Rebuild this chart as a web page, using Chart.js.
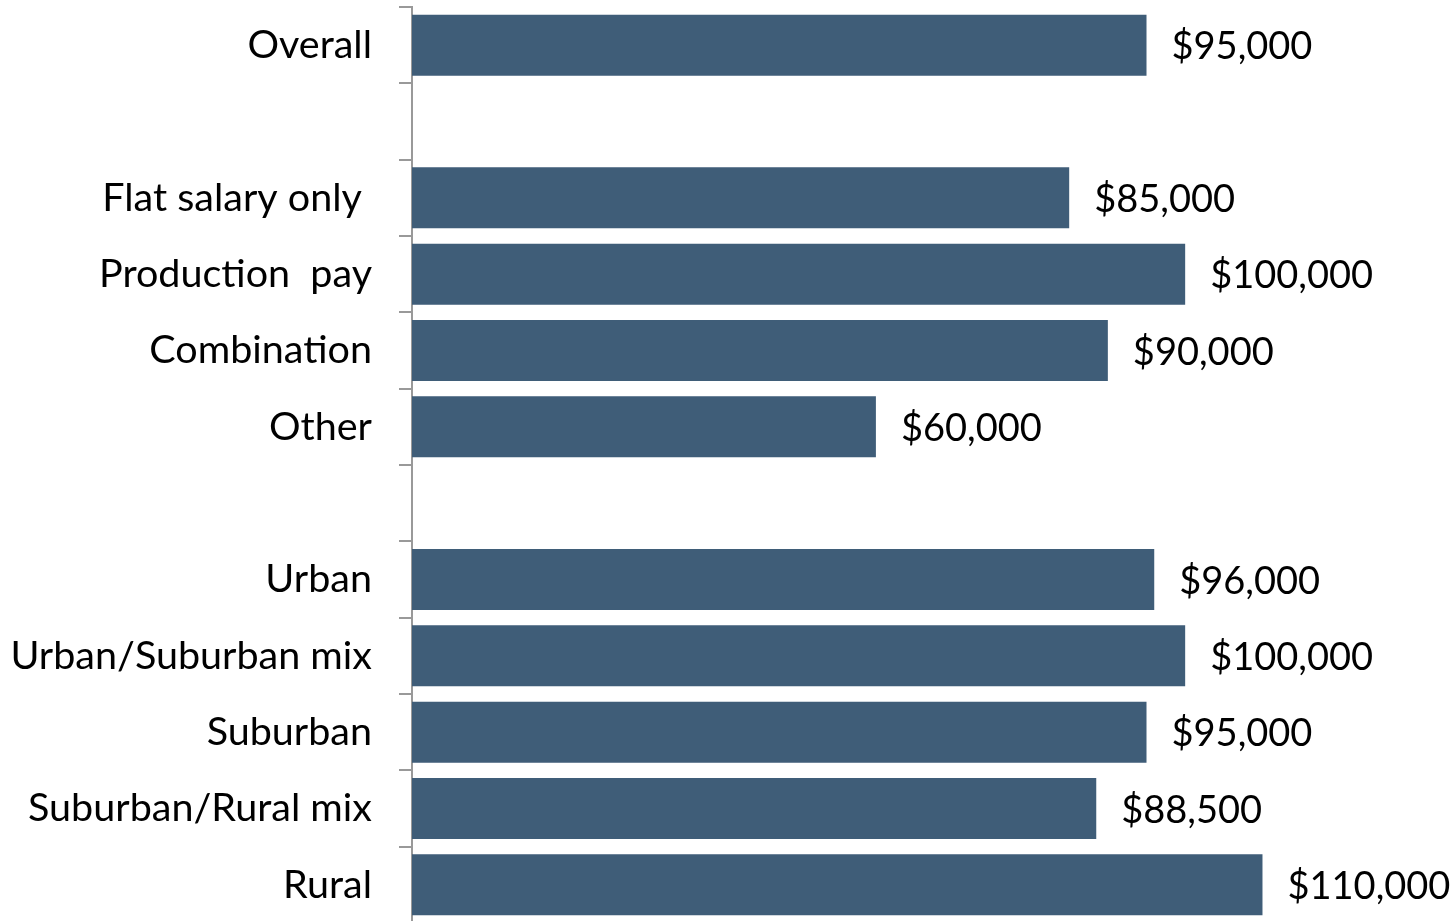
<!DOCTYPE html>
<html>
<head>
<meta charset="utf-8">
<script src="https://cdn.jsdelivr.net/npm/chart.js@4"></script>
<style>
  html, body { margin: 0; padding: 0; background: #fff; overflow: hidden; }
  #wrap { width: 1455px; height: 925px; }
</style>
</head>
<body>
<div id="wrap"><canvas id="chart"></canvas></div>
<script>
// blank entries are spacer rows between groups
const categories = [
  'Overall', '',
  'Flat salary only ', 'Production  pay', 'Combination', 'Other', '',
  'Urban', 'Urban/Suburban mix', 'Suburban', 'Suburban/Rural mix', 'Rural'
]
const salaries = [95000, null, 85000, 100000, 90000, 60000, null, 96000, 100000, 95000, 88500, 110000]

const FONT = 'Lato, "Open Sans", sans-serif'

const valueLabels = {
  id: 'valueLabels',
  afterDatasetsDraw(chart) {
    const ctx = chart.ctx
    const meta = chart.getDatasetMeta(0)
    ctx.save()
    ctx.font = '38px ' + FONT
    ctx.fillStyle = '#000'
    ctx.textAlign = 'left'
    ctx.textBaseline = 'middle'
    meta.data.forEach((bar, i) => {
      const v = salaries[i]
      if (v == null) return
      ctx.fillText('$' + v.toLocaleString('en-US'), bar.x + 25, bar.y + 2)
    })
    ctx.restore()
  }
}

new Chart(document.getElementById('chart'), {
  type: 'bar',
  data: {
    labels: categories,
    datasets: [{
      data: salaries,
      backgroundColor: '#3f5d78',
      borderWidth: 0,
      barPercentage: 0.8,
      categoryPercentage: 1
    }]
  },
  options: {
    indexAxis: 'y',
    responsive: true,
    maintainAspectRatio: false,
    animation: false,
    layout: { padding: { top: 7, left: 0, right: 0, bottom: 2 } },
    plugins: { legend: { display: false }, tooltip: { enabled: false } },
    scales: {
      x: {
        display: false,
        min: 0,
        max: 134900
      },
      y: {
        afterFit(scale) {
          scale.width = 412
          scale.paddingTop = 0
          scale.paddingBottom = 0
        },
        border: { display: true, color: '#999', width: 2 },
        grid: {
          offset: true,
          drawOnChartArea: false,
          drawTicks: true,
          tickLength: 13,
          color: '#999',
          lineWidth: 2
        },
        ticks: {
          color: '#000',
          padding: 27,
          autoSkip: false,
          font: { family: FONT, size: 39.5 }
        }
      }
    }
  },
  plugins: [valueLabels]
})
</script>
</body>
</html>
